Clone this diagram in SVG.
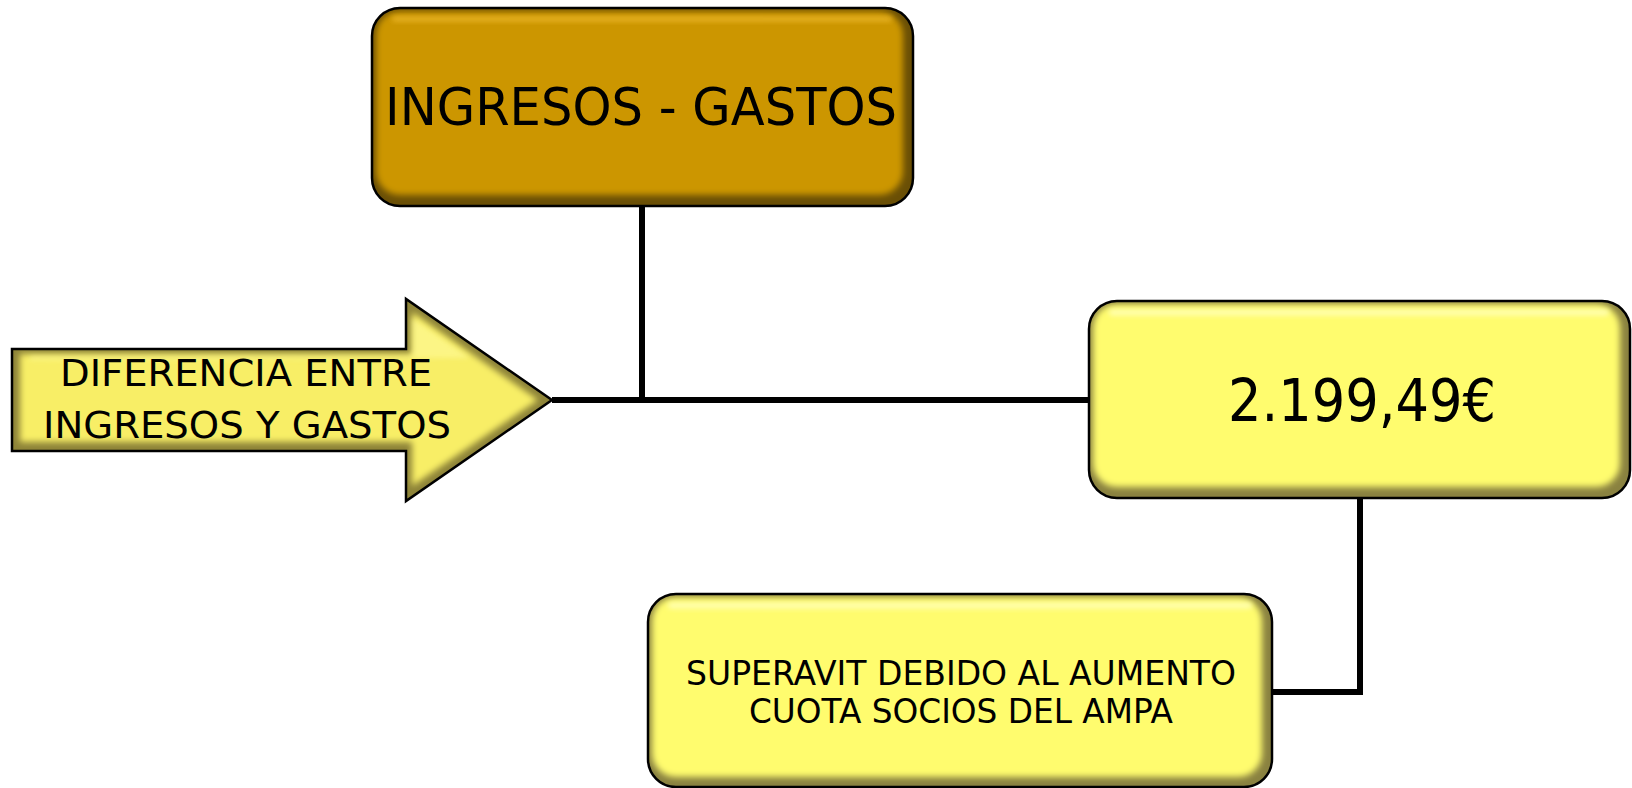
<svg xmlns="http://www.w3.org/2000/svg" width="1632" height="788" viewBox="0 0 1632 788">
  <style>
    .t { font-family: "DejaVu Sans", "Liberation Sans", sans-serif; fill: #000; text-anchor: middle; }
    .edge { stroke: #000; stroke-width: 6; fill: none; stroke-linecap: butt; }
    .outline { fill: none; stroke: #000; stroke-width: 2.5; }
  </style>
  <defs>
    <filter id="soft" x="-5%" y="-5%" width="110%" height="110%">
      <feGaussianBlur stdDeviation="3"/>
    </filter>
    <filter id="softer" x="-5%" y="-50%" width="110%" height="200%">
      <feGaussianBlur stdDeviation="2.5"/>
    </filter>
    <clipPath id="cTop"><rect x="372" y="8" width="541" height="198" rx="28"/></clipPath>
    <clipPath id="cVal"><rect x="1089" y="301" width="541" height="197" rx="28"/></clipPath>
    <clipPath id="cNote"><rect x="648" y="594" width="624" height="193" rx="28"/></clipPath>
    <clipPath id="cArrow"><polygon points="12,349 406,349 406,299 552,400 406,501 406,451 12,451"/></clipPath>
  </defs>

  <g id="connectors">
    <line class="edge" x1="642" y1="206" x2="642" y2="400"/>
    <line class="edge" x1="552" y1="400" x2="1089" y2="400"/>
    <polyline class="edge" points="1360,498 1360,692 1272,692"/>
  </g>

  <g id="node-ingresos-gastos">
    <g clip-path="url(#cTop)">
      <rect x="372" y="8" width="541" height="198" fill="#6A4F05"/>
      <rect x="376" y="11" width="527" height="184" rx="24" fill="#CC9606" filter="url(#soft)"/>
      <rect x="392" y="16" width="500" height="6" rx="3" fill="#F2BE30" opacity="0.6" filter="url(#softer)"/>
    </g>
    <rect class="outline" x="372" y="8" width="541" height="198" rx="28"/>
    <text class="t" x="641" y="125" font-size="51" textLength="512" lengthAdjust="spacingAndGlyphs">INGRESOS - GASTOS</text>
  </g>

  <g id="node-diferencia">
    <g clip-path="url(#cArrow)">
      <polygon points="12,349 406,349 406,299 552,400 406,501 406,451 12,451" fill="#8E8438"/>
      <polygon points="20,354 412,354 412,312 538,400 412,486 412,442 20,442" fill="#F8EE66" filter="url(#soft)"/>
      <polygon points="30,356 412,356 412,318 470,358 30,360" fill="#FFFA9A" opacity="0.6" filter="url(#softer)"/>
    </g>
    <polygon class="outline" points="12,349 406,349 406,299 552,400 406,501 406,451 12,451"/>
    <text class="t" x="246" y="386" font-size="37" textLength="372" lengthAdjust="spacingAndGlyphs">DIFERENCIA ENTRE</text>
    <text class="t" x="247" y="438" font-size="37" textLength="408" lengthAdjust="spacingAndGlyphs">INGRESOS Y GASTOS</text>
  </g>

  <g id="node-valor">
    <g clip-path="url(#cVal)">
      <rect x="1089" y="301" width="541" height="197" fill="#8A8240"/>
      <rect x="1093" y="304" width="527" height="183" rx="24" fill="#FFFC6E" filter="url(#soft)"/>
      <rect x="1109" y="309" width="500" height="7" rx="3.5" fill="#FFFFB8" opacity="0.8" filter="url(#softer)"/>
    </g>
    <rect class="outline" x="1089" y="301" width="541" height="197" rx="28"/>
    <text class="t" x="1362" y="421" font-size="58" textLength="268" lengthAdjust="spacingAndGlyphs">2.199,49€</text>
  </g>

  <g id="node-superavit">
    <g clip-path="url(#cNote)">
      <rect x="648" y="594" width="624" height="193" fill="#8A8240"/>
      <rect x="652" y="597" width="610" height="180" rx="24" fill="#FFFC6E" filter="url(#soft)"/>
      <rect x="668" y="602" width="584" height="7" rx="3.5" fill="#FFFFB8" opacity="0.8" filter="url(#softer)"/>
    </g>
    <rect class="outline" x="648" y="594" width="624" height="193" rx="28"/>
    <text class="t" x="961" y="685" font-size="33" textLength="550" lengthAdjust="spacingAndGlyphs">SUPERAVIT DEBIDO AL AUMENTO</text>
    <text class="t" x="961" y="723" font-size="33" textLength="424" lengthAdjust="spacingAndGlyphs">CUOTA SOCIOS DEL AMPA</text>
  </g>
</svg>
